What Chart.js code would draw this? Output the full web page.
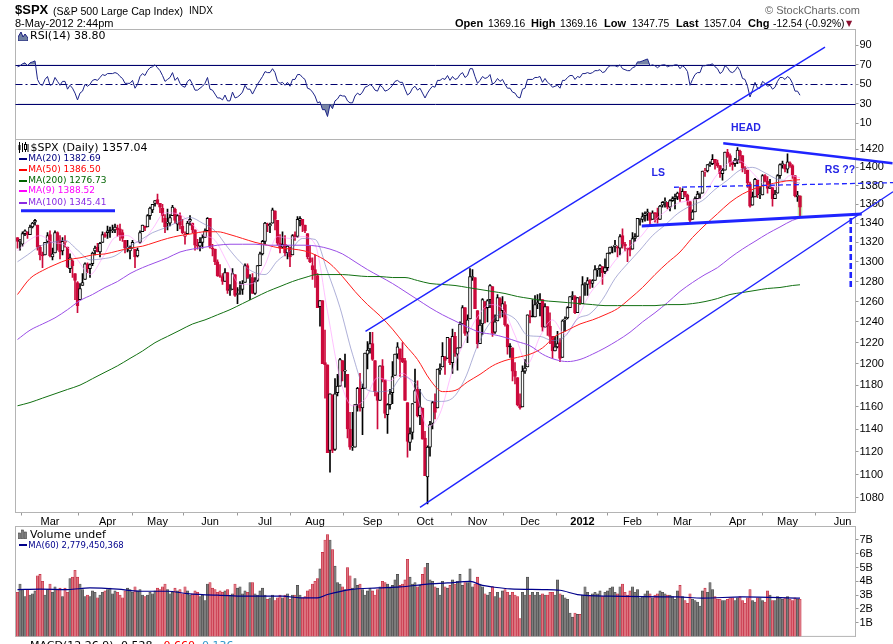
<!DOCTYPE html>
<html>
<head>
<meta charset="utf-8">
<title>$SPX daily</title>
<script src="https://cdn.jsdelivr.net/npm/chart.js@4.4.0/dist/chart.umd.min.js"></script>
<style>
html,body{margin:0;padding:0;background:#fff;overflow:hidden}
#wrap{position:relative;width:893px;height:644px;overflow:hidden;font-family:"Liberation Sans",Arial,sans-serif;color:#000}
canvas{position:absolute;left:0;top:0}
.t{position:absolute;white-space:nowrap;line-height:1}
.dv{font-family:"DejaVu Sans",sans-serif}
.mk{position:absolute;left:19px;width:8px;height:2px}
</style>
</head>
<body>
<div id="wrap">
<canvas id="rsi" width="893" height="644"></canvas>
<canvas id="vol" width="893" height="644"></canvas>
<canvas id="price" width="893" height="644"></canvas>

<div class="t" style="left:15px;top:3px;font-size:13px;font-weight:bold">$SPX</div>
<div class="t" style="left:53px;top:5.5px;font-size:10.6px">(S&amp;P 500 Large Cap Index)</div>
<div class="t" style="left:189px;top:6px;font-size:10px">INDX</div>
<div class="t" style="left:15px;top:18px;font-size:11px">8-May-2012 2:44pm</div>
<div class="t" style="left:765px;top:5px;font-size:11px;color:#666">&copy; StockCharts.com</div>
<div class="t" style="left:455px;top:18px;font-size:11px;font-weight:bold">Open</div>
<div class="t" style="left:488px;top:19px;font-size:10.3px">1369.16</div>
<div class="t" style="left:531px;top:18px;font-size:11px;font-weight:bold">High</div>
<div class="t" style="left:560px;top:19px;font-size:10.3px">1369.16</div>
<div class="t" style="left:604px;top:18px;font-size:11px;font-weight:bold">Low</div>
<div class="t" style="left:632px;top:19px;font-size:10.3px">1347.75</div>
<div class="t" style="left:676px;top:18px;font-size:11px;font-weight:bold">Last</div>
<div class="t" style="left:704px;top:19px;font-size:10.3px">1357.04</div>
<div class="t" style="left:748px;top:18px;font-size:11px;font-weight:bold">Chg</div>
<div class="t" style="left:773px;top:19px;font-size:10.3px">-12.54 (-0.92%)</div>
<div class="t dv" style="left:846px;top:20px;font-size:8px;color:#8b1030">&#9660;</div>

<svg class="t" style="left:18px;top:31px" width="10" height="10"><polygon points="0,10 0,6 3,1 5,6 7,3 10,7 10,10" fill="#6f7fa0" stroke="#1c2080" stroke-width="1"/></svg>
<div class="t dv" style="left:30px;top:30px;font-size:11px">RSI(14) 38.80</div>

<svg class="t" style="left:18px;top:142px" width="11" height="11"><path d="M1.5 0v11M4.5 1v9M7.5 0v10M10 2v8" stroke="#000" stroke-width="1"/><rect x="0.5" y="3" width="2" height="5" fill="#000"/><rect x="6.5" y="2.5" width="2" height="5" fill="#fff" stroke="#000" stroke-width="1"/></svg>
<div class="t dv" style="left:30.5px;top:141.5px;font-size:11px">$SPX (Daily) 1357.04</div>
<div class="mk" style="top:158px;background:#000080"></div>
<div class="t dv" style="left:28.3px;top:154px;font-size:9px;color:#000080">MA(20) 1382.69</div>
<div class="mk" style="top:168.5px;background:#ff0000"></div>
<div class="t dv" style="left:28.3px;top:164.5px;font-size:9px;color:#ff0000">MA(50) 1386.50</div>
<div class="mk" style="top:179.5px;background:#006400"></div>
<div class="t dv" style="left:28.3px;top:175.5px;font-size:9px;color:#006400">MA(200) 1276.73</div>
<div class="mk" style="top:190px;background:#ff00ff"></div>
<div class="t dv" style="left:28.3px;top:186px;font-size:9px;color:#ff00ff">MA(9) 1388.52</div>
<div class="mk" style="top:202px;background:#8a2be2"></div>
<div class="t dv" style="left:28.3px;top:197.5px;font-size:9px;color:#8a2be2">MA(100) 1345.41</div>

<svg class="t" style="left:18px;top:529px" width="10" height="10"><rect x="0.5" y="4" width="2" height="6" fill="#808080" stroke="#404040" stroke-width="0.6"/><rect x="3.5" y="1" width="2" height="9" fill="#808080" stroke="#404040" stroke-width="0.6"/><rect x="6.5" y="3" width="2" height="7" fill="#808080" stroke="#404040" stroke-width="0.6"/></svg>
<div class="t dv" style="left:30px;top:528.5px;font-size:11px">Volume undef</div>
<div class="mk" style="top:544px;background:#00008b"></div>
<div class="t dv" style="left:28.3px;top:540.5px;font-size:8.5px;color:#00008b">MA(60) 2,779,450,368</div>
<div class="t dv" style="left:30px;top:639.5px;font-size:11px">MACD(12,26,9) -0.528, <span style="color:#ff0000">-0.660</span>, <span style="color:#3399cc">0.136</span></div>
</div>

<script>
// month ticks (trading-day index of first session of each month)
const monthIdx = [13, 36, 56, 77, 99, 119, 142, 163, 184, 205, 226, 246, 266, 288, 308, 330];
const monthLabels = ['Mar', 'Apr', 'May', 'Jun', 'Jul', 'Aug', 'Sep', 'Oct', 'Nov', 'Dec', '2012', 'Feb', 'Mar', 'Apr', 'May', 'Jun'];
const priceTicks = [1080, 1100, 1120, 1140, 1160, 1180, 1200, 1220, 1240, 1260, 1280, 1300, 1320, 1340, 1360, 1380, 1400, 1420];
const rsiTicks = [10, 30, 50, 70, 90];
const rsiLevels = [30, 50, 70];
const volTicks = [1, 2, 3, 4, 5, 6, 7];
const priorClose = 1324.57;

// daily $SPX, 9-Feb-2011 .. 8-May-2012
const opens = [
  1325,1321,1318,1329,1331,1328,1336,1341,1338,1315,1307,1307,1321,
  1328,1305,1309,1330,1322,1311,1320,1315,1293,1301,1288,1279,1262,1276,1282,1298,1293,1298,1311,1315,1310,1320,1328,
  1330,1333,1332,1333,1335,1334,1330,1322,1314,1311,1314,1313,1306,1320,1331,1337,1336,1348,1354,1361,
  1365,1361,1356,1345,1340,1340,1348,1355,1339,1348,1337,1326,1329,1342,1340,1333,1317,1316,1320,1325,1332,
  1345,1314,1313,1300,1286,1285,1280,1289,1271,1272,1287,1267,1271,1272,1279,1296,1283,1284,1268,1281,1296,1308,
  1321,1339,1337,1340,1353,1343,1319,1315,1318,1309,1315,1307,1328,1326,1343,1344,1338,1329,1304,1296,
  1292,1286,1255,1261,1201,1199,1121,1171,1122,1173,1179,1203,1193,1190,1140,1124,1124,1162,1177,1159,1177,1209,1214,
  1219,1203,1173,1166,1198,1185,1153,1162,1173,1189,1209,1214,1205,1203,1164,1128,1137,1164,1176,1152,1159,
  1132,1098,1124,1145,1165,1159,1194,1197,1206,1205,1224,1201,1226,1209,1215,1238,1254,1230,1243,1284,1284,
  1251,1219,1238,1260,1254,1262,1275,1230,1241,1263,1251,1257,1237,1217,1215,1193,1187,1162,1160,1193,1197,
  1246,1246,1245,1258,1258,1262,1235,1255,1236,1226,1212,1216,1220,1206,1242,1244,1254,1265,1265,1249,1262,
  1258,1277,1277,1281,1278,1281,1292,1293,1295,1290,1294,1309,1315,1316,1315,1314,1327,1318,1314,1314,
  1313,1324,1326,1344,1344,1348,1351,1351,1344,1351,1351,1344,1359,1362,1362,1357,1364,1366,1368,1372,
  1366,1374,1370,1363,1344,1352,1366,1371,1372,1395,1396,1403,1404,1409,1405,1402,1393,1397,1417,1413,1405,1404,
  1408,1418,1413,1399,1397,1382,1359,1368,1386,1370,1370,1391,1385,1377,1378,1366,1372,1391,1403,1403,
  1398,1405,1402,1391,1368,1369.16
];
const highs = [
  1325,1323,1331,1333,1331,1338,1341,1344,1338,1317,1310,1320,1330,
  1332,1314,1332,1331,1327,1325,1327,1315,1308,1302,1288,1280,1278,1288,1299,1299,1298,1310,1316,1319,1320,1331,1330,
  1337,1336,1338,1339,1338,1339,1333,1322,1322,1316,1322,1313,1314,1332,1338,1337,1349,1357,1360,1364,
  1371,1361,1360,1349,1355,1349,1359,1356,1349,1351,1344,1331,1342,1348,1340,1333,1323,1325,1328,1334,1346,
  1345,1318,1313,1302,1297,1288,1293,1289,1277,1293,1287,1274,1280,1281,1298,1298,1287,1288,1284,1296,1310,1322,
  1341,1340,1340,1356,1353,1343,1328,1331,1327,1317,1315,1328,1331,1347,1347,1344,1338,1329,1316,1304,
  1307,1288,1261,1261,1232,1199,1172,1171,1186,1190,1205,1203,1209,1190,1155,1155,1162,1178,1191,1181,1210,1221,1230,
  1230,1203,1173,1198,1204,1185,1163,1176,1202,1209,1220,1214,1220,1205,1164,1141,1163,1195,1184,1176,1159,
  1138,1125,1147,1165,1172,1195,1200,1220,1207,1225,1224,1233,1230,1215,1240,1256,1254,1247,1293,1292,1284,
  1251,1242,1263,1260,1262,1277,1275,1247,1267,1264,1265,1260,1238,1219,1215,1201,1187,1172,1198,1204,1247,
  1251,1262,1266,1267,1268,1262,1258,1255,1249,1226,1226,1231,1224,1242,1245,1255,1265,1270,1266,1264,1265,
  1285,1279,1284,1282,1282,1296,1293,1297,1295,1303,1309,1315,1315,1322,1316,1328,1334,1320,1314,1322,
  1330,1329,1345,1345,1351,1352,1355,1351,1353,1351,1356,1359,1363,1367,1362,1365,1368,1371,1373,1378,
  1377,1374,1371,1363,1354,1368,1374,1372,1396,1399,1403,1406,1414,1409,1408,1402,1399,1417,1420,1415,1406,1410,
  1422,1419,1413,1401,1397,1384,1373,1388,1386,1379,1392,1392,1390,1387,1378,1375,1392,1404,1407,1403,
  1415,1406,1403,1391,1374,1369.16
];
const lows = [
  1314,1312,1316,1327,1324,1328,1335,1338,1312,1302,1294,1307,1320,
  1305,1302,1309,1312,1303,1307,1315,1294,1289,1284,1262,1249,1262,1276,1282,1289,1284,1296,1307,1310,1305,1320,1325,
  1324,1325,1330,1330,1326,1322,1321,1309,1310,1303,1314,1294,1305,1319,1331,1332,1336,1344,1351,1358,
  1360,1351,1341,1330,1333,1337,1348,1340,1332,1334,1329,1318,1329,1338,1330,1312,1313,1311,1314,1325,1332,
  1314,1306,1297,1285,1284,1277,1280,1268,1266,1272,1265,1258,1267,1267,1279,1283,1262,1268,1267,1280,1296,1307,
  1318,1331,1330,1340,1333,1317,1309,1314,1306,1303,1295,1307,1322,1325,1337,1331,1330,1303,1299,1282,
  1274,1254,1236,1200,1168,1119,1102,1119,1121,1170,1179,1184,1178,1132,1122,1121,1124,1156,1156,1135,1177,1195,1210,
  1203,1170,1140,1166,1183,1150,1136,1158,1163,1189,1205,1188,1201,1166,1115,1121,1131,1164,1151,1144,1131,
  1099,1075,1116,1140,1149,1159,1190,1197,1190,1205,1199,1191,1207,1194,1215,1238,1227,1220,1243,1281,1253,
  1215,1219,1228,1239,1240,1254,1226,1229,1241,1244,1245,1236,1209,1206,1184,1181,1161,1158,1160,1191,1197,
  1239,1245,1245,1253,1246,1231,1235,1227,1219,1205,1212,1215,1202,1206,1231,1243,1254,1262,1248,1249,1257,
  1258,1266,1266,1273,1274,1281,1285,1285,1277,1288,1291,1308,1309,1310,1305,1307,1314,1311,1300,1306,
  1313,1321,1326,1338,1341,1342,1343,1337,1344,1341,1340,1344,1357,1357,1355,1353,1363,1355,1365,1363,
  1366,1368,1359,1340,1344,1352,1366,1366,1372,1390,1395,1401,1403,1398,1400,1389,1386,1397,1411,1401,1397,1401,
  1404,1405,1395,1393,1378,1357,1359,1368,1367,1366,1370,1384,1372,1377,1358,1366,1372,1388,1399,1395,
  1394,1400,1388,1368,1363,1347.75
];
const closes = [
  1321,1322,1329,1332,1328,1336,1340,1343,1315,1307,1306,1320,1327,
  1306,1308,1330,1321,1310,1321,1320,1295,1304,1296,1281,1256,1273,1279,1298,1293,1297,1309,1314,1310,1319,1328,1326,
  1332,1332,1332,1336,1333,1328,1324,1314,1314,1314,1320,1305,1312,1330,1338,1335,1348,1356,1360,1364,
  1361,1357,1348,1336,1340,1346,1357,1343,1348,1338,1330,1328,1340,1344,1333,1317,1316,1320,1325,1332,1345,
  1315,1313,1300,1286,1285,1280,1289,1271,1271,1288,1266,1268,1272,1278,1296,1284,1284,1268,1280,1296,1308,1321,
  1340,1338,1339,1354,1344,1319,1314,1318,1309,1316,1305,1327,1326,1344,1345,1338,1332,1305,1300,1292,
  1287,1254,1261,1200,1199,1119,1172,1121,1172,1179,1204,1193,1193,1140,1124,1124,1162,1177,1159,1177,1210,1213,1219,
  1204,1174,1166,1198,1185,1154,1162,1172,1188,1209,1216,1204,1202,1166,1129,1136,1163,1175,1152,1160,1131,
  1099,1124,1144,1164,1155,1195,1196,1207,1203,1225,1201,1226,1210,1215,1238,1254,1229,1242,1285,1285,1253,
  1219,1237,1262,1253,1261,1276,1229,1240,1264,1251,1258,1237,1216,1216,1193,1188,1162,1159,1193,1196,1247,
  1245,1245,1257,1258,1262,1235,1255,1236,1226,1212,1216,1219,1205,1241,1243,1254,1265,1265,1249,1264,1258,
  1277,1277,1281,1278,1281,1292,1293,1296,1289,1294,1309,1315,1315,1316,1314,1326,1318,1316,1313,1312,
  1324,1326,1345,1345,1347,1350,1352,1343,1351,1350,1344,1358,1362,1362,1357,1364,1366,1368,1372,1366,
  1374,1370,1364,1343,1352,1366,1371,1372,1396,1395,1403,1404,1409,1405,1402,1393,1397,1417,1412,1405,1403,1408,
  1419,1413,1399,1398,1383,1358,1368,1387,1370,1370,1391,1385,1377,1379,1366,1371,1391,1403,1403,1398,
  1406,1402,1392,1369,1370,1357.04
];
// volume in billions of shares
const volume = [
  3.2,3.8,3.4,2.9,3.4,3.0,3.1,3.3,4.4,4.5,4.0,3.0,3.4,
  3.8,3.2,3.6,3.4,3.5,2.9,3.5,3.2,4.2,4.3,4.8,4.3,3.8,3.4,2.9,3.0,2.9,3.3,3.2,2.8,3.0,3.2,3.3,
  3.4,3.5,3.1,3.3,3.2,3.0,2.8,3.3,3.5,3.4,3.2,3.6,3.3,3.4,3.0,2.9,3.0,3.2,3.1,3.3,
  3.5,3.4,3.6,3.8,3.4,3.1,3.2,3.5,3.3,3.4,3.1,3.6,3.3,3.0,3.1,3.3,3.2,2.9,3.0,2.6,3.8,
  3.9,3.5,3.4,3.2,3.3,3.2,3.3,3.4,3.0,3.1,3.8,3.5,3.6,3.1,3.3,3.2,3.9,3.9,3.1,3.0,3.3,3.5,
  3.0,2.7,2.8,3.0,2.6,2.8,3.0,2.8,3.0,3.1,2.7,3.0,3.0,3.7,3.0,2.8,2.9,3.3,3.4,3.8,
  4.0,4.2,4.9,6.1,7.0,7.4,7.0,6.3,5.1,3.9,3.8,3.6,3.4,5.0,4.4,3.5,4.2,3.7,3.8,3.4,3.0,3.3,3.5,
  3.3,3.0,3.4,3.6,4.0,3.9,3.8,3.5,3.7,4.1,4.5,3.7,3.8,4.1,5.6,4.3,3.8,3.9,3.6,3.7,4.5,
  5.0,5.3,4.1,4.0,3.6,3.5,3.0,4.0,3.6,3.5,3.7,4.1,3.8,4.0,4.5,3.7,3.9,3.9,4.9,3.6,3.8,
  4.3,3.8,3.6,3.1,3.0,3.2,3.6,2.9,3.2,2.8,3.3,3.4,3.2,3.0,3.2,3.0,2.9,1.3,3.2,3.0,4.3,
  3.0,3.2,3.0,3.2,3.0,3.1,3.0,3.0,3.2,3.2,3.0,4.1,3.1,3.0,2.8,2.7,1.7,1.4,1.7,1.6,1.6,
  3.0,3.6,3.2,2.9,3.1,3.2,3.1,3.3,2.9,3.2,3.3,3.5,3.6,3.2,3.1,3.6,3.8,3.2,3.0,3.3,
  3.6,3.2,3.4,2.8,2.9,3.1,3.3,3.1,2.8,3.0,3.1,3.3,3.2,3.1,3.0,3.0,2.9,2.7,3.3,3.7,
  2.9,2.6,2.4,3.1,2.7,2.6,2.5,2.2,3.3,3.5,3.2,3.9,3.4,2.9,2.7,2.7,2.6,2.6,2.7,2.8,2.8,2.6,
  2.8,2.9,2.6,2.4,2.8,3.4,2.6,2.5,2.8,2.8,2.6,2.5,3.3,3.0,2.6,2.6,2.9,2.8,2.7,2.8,
  2.9,2.7,2.6,2.8,2.7,2.7
];
const rsi14 = [
  68,69,71,72,69,72,73,74,55,50,49,55,58,
  49,50,57,53,49,53,53,45,49,46,41,34,41,43,50,48,50,54,55,54,57,60,59,
  61,61,61,62,61,58,56,51,51,51,54,46,50,58,61,59,64,67,68,70,
  67,64,59,53,55,57,62,54,57,51,48,47,53,55,50,44,44,46,48,51,57,
  45,44,40,36,36,34,39,33,33,42,36,37,39,42,49,45,45,40,45,50,54,58,
  63,62,62,66,62,53,51,52,49,52,48,55,55,60,60,57,55,46,45,42,
  38,31,32,24,24,17,29,25,33,35,39,38,38,33,31,31,38,41,39,42,47,48,50,
  48,44,43,49,47,43,44,46,49,53,54,52,52,45,39,41,46,48,44,46,41,
  36,41,45,48,47,54,54,56,55,59,54,58,55,56,60,62,57,59,66,66,58,
  51,54,58,56,57,60,50,52,56,53,55,50,46,46,42,41,37,36,45,46,55,
  55,55,57,57,58,52,56,52,50,47,48,49,46,54,54,57,59,59,55,58,57,
  61,61,62,61,62,64,64,65,62,63,67,69,69,69,68,70,66,65,64,64,
  67,68,73,73,74,75,76,69,70,69,67,69,70,70,68,69,69,70,70,66,
  69,67,63,49,55,60,62,62,69,69,70,70,71,68,66,61,63,69,67,63,62,64,
  68,64,56,55,48,37,44,52,46,46,53,51,48,49,45,47,53,57,57,55,
  58,56,51,43,43,38.8
];

// moving averages at sample days
const fastIdx = [0,4,9,14,19,24,29,34,39,44,49,54,59,64,69,74,79,84,89,94,99,104,109,114,119,124,129,134,139,144,149,154,159,164,169,174,179,184,189,194,199,204,209,214,219,224,229,234,239,244,249,254,259,264,269,274,279,284,289,294,299,304,309,313];
const slowIdx = [0,5,10,15,20,25,30,35,40,45,50,55,60,65,70,75,80,85,90,95,100,105,110,115,120,125,130,135,140,145,150,155,160,165,170,175,180,185,190,195,200,205,210,215,220,225,230,235,240,245,250,255,260,265,270,275,280,285,290,295,300,305,310,313];
const ma9 = [1311,1321,1327,1320,1317,1302,1287,1304,1325,1327,1319,1334,1351,1350,1341,1328,1322,1299,1277,1278,1297,1326,1324,1326,1318,1250,1186,1161,1167,1187,1184,1191,1176,1142,1154,1194,1222,1245,1257,1253,1227,1200,1226,1242,1228,1244,1268,1283,1301,1314,1325,1341,1352,1361,1364,1368,1389,1404,1407,1394,1381,1379,1391,1388.52];
const ma20 = [1300,1307,1316,1320,1322,1312,1302,1303,1306,1315,1322,1330,1335,1341,1346,1340,1332,1315,1300,1290,1287,1301,1311,1324,1323,1290,1254,1209,1177,1174,1175,1188,1182,1166,1165,1168,1186,1217,1239,1248,1243,1227,1226,1222,1226,1243,1248,1262,1283,1298,1312,1327,1338,1350,1358,1364,1376,1386,1397,1400,1394,1387,1385,1382.69];
const ma50 = [1267,1283,1291,1297,1302,1304,1307,1308,1311,1314,1316,1320,1324,1327,1329,1331,1331,1328,1324,1320,1317,1314,1313,1311,1306,1298,1285,1270,1257,1246,1233,1218,1204,1185,1174,1175,1183,1190,1198,1203,1206,1209,1215,1226,1232,1238,1242,1247,1253,1263,1274,1287,1299,1310,1325,1338,1350,1362,1371,1377,1381,1384,1386,1386.5];
const ma100 = [1223,1232,1238,1244,1252,1261,1267,1274,1280,1288,1294,1299,1304,1310,1313,1315,1317,1318,1318,1318,1317,1317,1317,1317,1316,1313,1308,1300,1292,1285,1278,1270,1262,1254,1247,1241,1235,1230,1228,1225,1221,1217,1209,1204,1202,1204,1209,1215,1222,1230,1240,1249,1259,1270,1279,1287,1294,1304,1313,1321,1329,1336,1343,1345.41];
const ma200 = [1161,1164,1168,1172,1176,1180,1186,1192,1198,1205,1212,1220,1226,1232,1238,1242,1247,1252,1258,1264,1270,1275,1280,1284,1287,1287,1287,1286,1285,1285,1284,1284,1281,1278,1277,1276,1274,1272,1270,1268,1265,1263,1261,1260,1259,1258,1257,1256,1256,1256,1256,1256,1257,1257,1258,1260,1263,1267,1269,1271,1273,1274,1276,1276.73];
const volMaIdx = [0,9,20,29,40,49,60,68,80,93,106,113,120,124,133,144,153,164,172,181,186,190,197,210,217,224,237,264,274,290,313];
const volMa60 = [3.40,3.43,3.40,3.52,3.43,3.28,3.28,3.11,2.99,2.92,2.92,2.80,2.80,3.04,3.40,3.52,3.59,3.80,3.88,3.99,3.70,3.59,3.45,3.40,3.35,3.04,2.92,2.87,2.78,2.87,2.78];

// hand-drawn annotations (in day-index / price units)
const trendLines = [
  { x1: 139.2, y1: 1230.9, x2: 323, y2: 1538.7, w: 1.4 },
  { x1: 161, y1: 1072, x2: 350.2, y2: 1373.5, w: 1.4 },
  { x1: 249.7, y1: 1337, x2: 337.7, y2: 1349.7, w: 3 },
  { x1: 282.3, y1: 1426.7, x2: 350, y2: 1404.5, w: 2.5 },
  { x1: 262.6, y1: 1378.3, x2: 350.2, y2: 1383.3, w: 1.3, dash: [5, 3] },
  { x1: 333.3, y1: 1345.5, x2: 333.3, y2: 1273.5, w: 2.6, dash: [6, 3] },
  { x1: 1.4, y1: 1353, x2: 39, y2: 1353, w: 3 }
];
const noteTexts = [
  { text: 'HEAD', x: 291.4, y: 1443.6 },
  { text: 'LS', x: 256.3, y: 1393.3 },
  { text: 'RS ??', x: 329, y: 1397.1 }
];

const xMin = -0.8, xMax = 335.2;
const RED = '#cc0a3c', BLK = '#000000', NOTE = '#1f24ff';
Chart.defaults.font.family = "'Liberation Sans', Arial, sans-serif";
Chart.defaults.font.size = 11;
Chart.defaults.color = '#000';

const down = closes.map((c, i) => c < (i ? closes[i - 1] : priorClose));
const candleCol = down.map(d => d ? RED : BLK);
const bodyFill = closes.map((c, i) => c >= opens[i] ? '#ffffff' : candleCol[i]);
const pts = (xs, ys) => xs.map((x, k) => ({ x: x, y: ys[k] }));
const days = closes.map((c, i) => i);

const frame = {
  id: 'frame',
  beforeDraw(c) {
    const a = c.chartArea, ctx = c.ctx;
    ctx.save();
    ctx.strokeStyle = '#b4b4b4';
    ctx.lineWidth = 1;
    ctx.strokeRect(a.left, a.top, a.right - a.left, a.bottom - a.top);
    ctx.restore();
  }
};

function xScale(show) {
  const s = {
    type: 'linear', min: xMin, max: xMax, offset: false, display: show,
    afterBuildTicks: sc => { sc.ticks = monthIdx.map(v => ({ value: v })); },
    ticks: {
      autoSkip: false, maxRotation: 0, padding: 0,
      font: c => ({ size: 11, weight: monthLabels[c.index] === '2012' ? 'bold' : 'normal' }),
      callback: (v, i) => monthLabels[i]
    },
    grid: { drawOnChartArea: false, tickLength: 3, color: '#999' },
    border: { color: '#b4b4b4' }
  };
  if (show) s.afterFit = sc => { sc.height = 14.5; };
  return s;
}
function yScale(extra, ticks, fmt) {
  return Object.assign({
    position: 'right',
    afterFit: s => { s.width = 37.5; },
    afterBuildTicks: s => { s.ticks = ticks.map(v => ({ value: v })); },
    ticks: { padding: 1, callback: fmt },
    grid: { drawOnChartArea: false, tickLength: 3, color: '#999' },
    border: { color: '#b4b4b4' }
  }, extra);
}
const base = pad => ({
  responsive: false, animation: false, events: [],
  layout: { autoPadding: false, padding: pad },
  plugins: { legend: { display: false }, tooltip: { enabled: false } }
});

// RSI panel
const rsiRefs = {
  id: 'rsiRefs',
  beforeDatasetsDraw(c) {
    const { ctx, chartArea: a, scales: { y } } = c;
    rsiLevels.forEach(v => {
      const py = Math.round(y.getPixelForValue(v)) + 0.5;
      ctx.save();
      ctx.strokeStyle = '#00006e';
      ctx.lineWidth = 1;
      if (v === 50) ctx.setLineDash([7, 3, 2, 3]);
      ctx.beginPath(); ctx.moveTo(a.left, py); ctx.lineTo(a.right, py); ctx.stroke();
      ctx.restore();
    });
  }
};
const rsiPts = pts(days, rsi14);
new Chart(document.getElementById('rsi'), {
  type: 'line',
  data: { datasets: [
    { data: rsiPts, borderColor: '#1c2388', borderWidth: 1, pointRadius: 0, tension: 0,
      fill: { target: { value: 70 }, above: 'rgba(96,112,150,0.85)', below: 'rgba(0,0,0,0)' } },
    { data: rsiPts, borderWidth: 0, pointRadius: 0, tension: 0,
      fill: { target: { value: 30 }, above: 'rgba(0,0,0,0)', below: 'rgba(96,112,150,0.85)' } }
  ]},
  options: Object.assign(base({ left: 15.5, right: 0, top: 29.5, bottom: 504.5 }), {
    scales: { x: xScale(false), y: yScale({ type: 'linear', min: -6.6, max: 106.2 }, rsiTicks, v => v) }
  }),
  plugins: [frame, rsiRefs]
});

// volume panel
new Chart(document.getElementById('vol'), {
  type: 'bar',
  data: { datasets: [
    { type: 'line', data: pts(volMaIdx, volMa60), borderColor: '#00008b', borderWidth: 1.2, pointRadius: 0, cubicInterpolationMode: 'monotone', order: 0 },
    { type: 'bar', data: pts(days, volume), grouped: false, barThickness: 2.4,
      backgroundColor: down.map(d => d ? '#dd7480' : '#7c7c7c'),
      borderColor: down.map(d => d ? '#c42a3e' : '#4a4a4a'),
      borderWidth: 0.6, borderSkipped: 'start', order: 1 }
  ]},
  options: Object.assign(base({ left: 15.5, right: 0, top: 526.5, bottom: 6.5 }), {
    scales: { x: xScale(false), y: yScale({ type: 'linear', min: 0, max: 7.98 }, volTicks, v => v + 'B') }
  }),
  plugins: [frame]
});

// price panel
const lastBar = {
  id: 'lastBar',
  beforeDatasetsDraw(c) {
    const { ctx, scales: { x, y } } = c;
    const i = closes.length - 1, px = x.getPixelForValue(i);
    const top = y.getPixelForValue(highs[i]), bot = y.getPixelForValue(lows[i]);
    ctx.save();
    ctx.fillStyle = '#c2ebb0';
    ctx.fillRect(px - 2.3, top, 4.6, bot - top);
    ctx.restore();
  }
};
const notes = {
  id: 'notes',
  afterDraw(c) {
    const { ctx, scales: { x, y } } = c;
    ctx.save();
    ctx.strokeStyle = NOTE;
    trendLines.forEach(t => {
      ctx.lineWidth = t.w;
      ctx.setLineDash(t.dash || []);
      ctx.beginPath();
      ctx.moveTo(x.getPixelForValue(t.x1), y.getPixelForValue(t.y1));
      ctx.lineTo(x.getPixelForValue(t.x2), y.getPixelForValue(t.y2));
      ctx.stroke();
    });
    ctx.setLineDash([]);
    ctx.fillStyle = '#2626e6';
    ctx.font = "bold 10.5px 'Liberation Sans', Arial, sans-serif";
    ctx.textAlign = 'center';
    ctx.textBaseline = 'middle';
    noteTexts.forEach(n => ctx.fillText(n.text, x.getPixelForValue(n.x), y.getPixelForValue(n.y)));
    ctx.restore();
  }
};
const maLine = (xs, ys, col, w) => ({
  type: 'line', data: pts(xs, ys), borderColor: col, borderWidth: w || 1,
  pointRadius: 0, cubicInterpolationMode: 'monotone', order: 0
});
new Chart(document.getElementById('price'), {
  type: 'bar',
  data: { datasets: [
    maLine(slowIdx, ma200, '#127012'),
    maLine(slowIdx, ma100, '#9a4ee6'),
    maLine(slowIdx, ma50, '#ff1c1c'),
    maLine(fastIdx, ma20, 'rgba(120,124,190,0.6)'),
    maLine(fastIdx, ma9, 'rgba(255,150,255,0.6)'),
    { type: 'bar', data: days.map(i => ({ x: i, y: [opens[i], closes[i]] })), grouped: false,
      barThickness: 3, minBarLength: 1, borderSkipped: false, borderWidth: 1,
      backgroundColor: bodyFill, borderColor: candleCol, order: 1 },
    { type: 'bar', data: days.map(i => ({ x: i, y: [lows[i], highs[i]] })), grouped: false,
      barThickness: 1, borderWidth: 0, backgroundColor: candleCol, order: 2 }
  ]},
  options: Object.assign(base({ left: 15.5, right: 0, top: 139.5, bottom: 117 }), {
    scales: {
      x: xScale(true),
      y: yScale({ type: 'logarithmic', min: 1067.7, max: 1430.97 }, priceTicks, v => String(v))
    }
  }),
  plugins: [frame, lastBar, notes]
});
</script>
</body>
</html>
